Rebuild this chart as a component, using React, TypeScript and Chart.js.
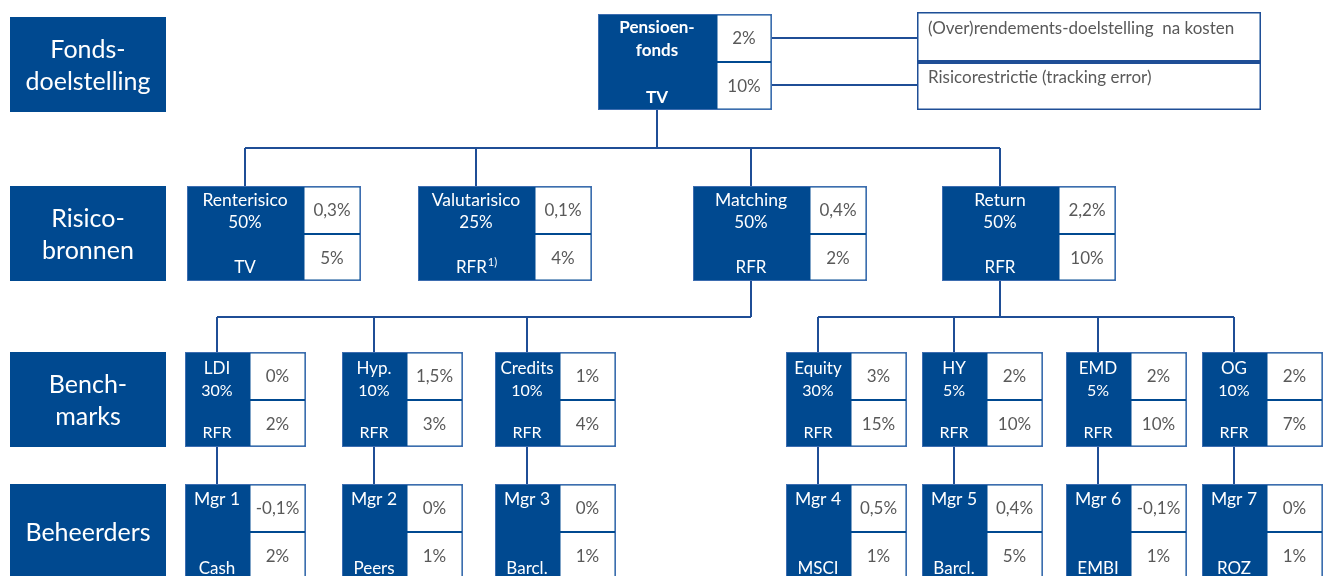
import React, { useEffect, useRef } from "react";
import { Chart, registerables } from "chart.js";

Chart.register(...registerables);

// ---------- data ----------
const rowLabels = [["Fonds-", "doelstelling"], ["Risico-", "bronnen"], ["Bench-", "marks"], ["Beheerders"]];

const fundName = ["Pensioen-", "fonds"];
const fundBenchmark = "TV";
const fundTarget = "2%";
const fundRisk = "10%";
const goalLabels = ["(Over)rendements-doelstelling  na kosten", "Risicorestrictie (tracking error)"];

const riskSources = ["Renterisico", "Valutarisico", "Matching", "Return"];
const riskWeights = ["50%", "25%", "50%", "50%"];
const riskBenchmarks = ["TV", "RFR", "RFR", "RFR"];
const riskFootnotes = ["", "1)", "", ""];
const riskTargets = ["0,3%", "0,1%", "0,4%", "2,2%"];
const riskLimits = ["5%", "4%", "2%", "10%"];

const benchNames = ["LDI", "Hyp.", "Credits", "Equity", "HY", "EMD", "OG"];
const benchWeights = ["30%", "10%", "10%", "30%", "5%", "5%", "10%"];
const benchIndex = ["RFR", "RFR", "RFR", "RFR", "RFR", "RFR", "RFR"];
const benchTargets = ["0%", "1,5%", "1%", "3%", "2%", "2%", "2%"];
const benchLimits = ["2%", "3%", "4%", "15%", "10%", "10%", "7%"];
const benchParent = [2, 2, 2, 3, 3, 3, 3];

const managers = ["Mgr 1", "Mgr 2", "Mgr 3", "Mgr 4", "Mgr 5", "Mgr 6", "Mgr 7"];
const managerIndex = ["Cash", "Peers", "Barcl.", "MSCI", "Barcl.", "EMBI", "ROZ"];
const managerTargets = ["-0,1%", "0%", "0%", "0,5%", "0,4%", "-0,1%", "0%"];
const managerLimits = ["2%", "1%", "1%", "1%", "5%", "1%", "1%"];

// ---------- layout (data-space units of the hidden linear scales) ----------
const W = 1323;
const H = 576;
const LAYOUT = {
  rowX: [10, 166],
  rowY: [[17, 112], [186, 281], [352, 447], [484, 610]],
  fund: { x0: 598, xd: 716, x1: 772, y0: 14, ym: 62, y1: 110 },
  goal: { x0: 917, x1: 1261, y0: 12, ym: 62, y1: 110 },
  goalLineY: [38, 85],
  riskX: [187, 418, 693, 942],
  riskW: 174,
  riskDark: 116,
  riskY: [186, 234, 281],
  benchX: [185, 342, 495, 786, 922, 1066, 1202],
  benchW: 121,
  benchDark: 64,
  benchY: [352, 400, 447],
  mgrY: [484, 532, 610],
  bus1Y: 148,
  bus2Y: 317,
};

const BLUE = "#004990";
const LINE = "#1F4E96";
const EDGE = "#3D6DB0";
const GRAY = "#595959";
const FONT = "Lato, 'Open Sans', sans-serif";

const diagramPlugin = {
  id: "diagram",
  afterDraw(chart: any) {
    const ctx: CanvasRenderingContext2D = chart.ctx;
    const xs = chart.scales.x;
    const ys = chart.scales.y;
    const px = (v: number) => xs.getPixelForValue(v);
    const py = (v: number) => ys.getPixelForValue(v);
    const L = LAYOUT;

    ctx.save();
    ctx.textAlign = "center";
    ctx.textBaseline = "middle";

    const rect = (x0: number, y0: number, x1: number, y1: number, fill: string) => {
      ctx.fillStyle = fill;
      ctx.fillRect(px(x0), py(y0), px(x1) - px(x0), py(y1) - py(y0));
    };
    const line = (pts: number[][], w = 2) => {
      ctx.strokeStyle = LINE;
      ctx.lineWidth = w;
      ctx.beginPath();
      pts.forEach((p, i) => (i === 0 ? ctx.moveTo(px(p[0]), py(p[1])) : ctx.lineTo(px(p[0]), py(p[1]))));
      ctx.stroke();
    };
    const text = (s: string, x: number, y: number, size: number, color: string, weight = "normal", align: CanvasTextAlign = "center") => {
      ctx.font = `${weight} ${size}px ${FONT}`;
      ctx.fillStyle = color;
      ctx.textAlign = align;
      ctx.fillText(s, px(x), py(y));
    };
    const node = (x0: number, xd: number, x1: number, y0: number, ym: number, y1: number) => {
      rect(x0, y0, x1, y1, BLUE);
      ctx.strokeStyle = EDGE;
      ctx.lineWidth = 1;
      ctx.strokeRect(px(x0) + 0.5, py(y0) + 0.5, px(x1) - px(x0) - 1, py(y1) - py(y0) - 1);
      rect(xd + 1.5, y0 + 1.5, x1 - 1.5, ym - 1, "#ffffff");
      rect(xd + 1.5, ym + 1, x1 - 1.5, y1 - 1.5, "#ffffff");
    };

    // connectors
    const fundCx = 657;
    const riskCx = L.riskX.map((x) => x + L.riskDark / 2);
    const benchCx = L.benchX.map((x) => x + L.benchDark / 2);
    line([[fundCx, L.fund.y1], [fundCx, L.bus1Y]]);
    line([[riskCx[0], L.bus1Y], [riskCx[riskCx.length - 1], L.bus1Y]]);
    riskCx.forEach((cx) => line([[cx, L.bus1Y], [cx, L.riskY[0]]]));
    [2, 3].forEach((p) => {
      const kids = benchCx.filter((_, i) => benchParent[i] === p);
      line([[riskCx[p], L.riskY[2]], [riskCx[p], L.bus2Y]]);
      line([[Math.min(...kids, riskCx[p]), L.bus2Y], [Math.max(...kids, riskCx[p]), L.bus2Y]]);
      kids.forEach((cx) => line([[cx, L.bus2Y], [cx, L.benchY[0]]]));
    });
    benchCx.forEach((cx) => line([[cx, L.benchY[2]], [cx, L.mgrY[0]]]));
    L.goalLineY.forEach((gy) => line([[L.fund.x1, gy], [L.goal.x0, gy]]));

    // row labels
    rowLabels.forEach((lines, r) => {
      const [y0, y1] = L.rowY[r];
      rect(L.rowX[0], y0, L.rowX[1], y1, BLUE);
      const cy = r === 3 ? 533 : (y0 + y1) / 2 + 1;
      const cx = (L.rowX[0] + L.rowX[1]) / 2;
      lines.forEach((s, i) => text(s, cx, cy + (i - (lines.length - 1) / 2) * 32, 25, "#ffffff"));
    });

    // fund
    const F = L.fund;
    node(F.x0, F.xd, F.x1, F.y0, F.ym, F.y1);
    const fcx = (F.x0 + F.xd) / 2;
    text(fundName[0], fcx, F.y0 + 14, 17, "#ffffff", "bold");
    text(fundName[1], fcx, F.y0 + 37, 17, "#ffffff", "bold");
    text(fundBenchmark, fcx, F.y1 - 12, 17, "#ffffff", "bold");
    text(fundTarget, (F.xd + F.x1) / 2, (F.y0 + F.ym) / 2 + 1, 17, GRAY);
    text(fundRisk, (F.xd + F.x1) / 2, (F.ym + F.y1) / 2 + 1, 17, GRAY);

    // goal boxes
    const G = L.goal;
    rect(G.x0, G.y0, G.x1, G.y1, LINE);
    rect(G.x0 + 1.5, G.y0 + 1.5, G.x1 - 1.5, G.ym - 2, BLUE);
    rect(G.x0 + 1.5, G.y0 + 1.5, G.x1 - 1.5, G.ym - 2, "#ffffff");
    rect(G.x0 + 1.5, G.ym + 2, G.x1 - 1.5, G.y1 - 1.5, "#ffffff");
    text(goalLabels[0], G.x0 + 11, G.y0 + 17, 17, GRAY, "normal", "left");
    text(goalLabels[1], G.x0 + 11, G.ym + 16, 17, GRAY, "normal", "left");

    // risk sources
    riskSources.forEach((name, i) => {
      const x0 = L.riskX[i];
      const xd = x0 + L.riskDark;
      const x1 = x0 + L.riskW;
      const [y0, ym, y1] = L.riskY;
      node(x0, xd, x1, y0, ym, y1);
      const cx = (x0 + xd) / 2;
      text(name, cx, y0 + 14, 17.5, "#ffffff");
      text(riskWeights[i], cx, y0 + 37, 17, "#ffffff");
      if (riskFootnotes[i]) {
        ctx.font = `normal 17px ${FONT}`;
        const w1 = ctx.measureText(riskBenchmarks[i]).width;
        ctx.font = `normal 11px ${FONT}`;
        const w2 = ctx.measureText(riskFootnotes[i]).width;
        const start = px(cx) - (w1 + w2) / 2;
        ctx.fillStyle = "#ffffff";
        ctx.textAlign = "left";
        ctx.font = `normal 17px ${FONT}`;
        ctx.fillText(riskBenchmarks[i], start, py(y1 - 13));
        ctx.font = `normal 11px ${FONT}`;
        ctx.fillText(riskFootnotes[i], start + w1 + 1, py(y1 - 19));
      } else {
        text(riskBenchmarks[i], cx, y1 - 13, 17, "#ffffff");
      }
      text(riskTargets[i], (xd + x1) / 2, (y0 + ym) / 2 + 1, 17, GRAY);
      text(riskLimits[i], (xd + x1) / 2, (ym + y1) / 2 + 1, 17, GRAY);
    });

    // benchmarks + managers
    benchNames.forEach((name, i) => {
      const x0 = L.benchX[i];
      const xd = x0 + L.benchDark;
      const x1 = x0 + L.benchW;
      const cx = (x0 + xd) / 2;
      const vx = (xd + x1) / 2;
      const [y0, ym, y1] = L.benchY;
      node(x0, xd, x1, y0, ym, y1);
      text(name, cx, y0 + 17, 17, "#ffffff");
      text(benchWeights[i], cx, y0 + 39, 16, "#ffffff");
      text(benchIndex[i], cx, y1 - 14, 16, "#ffffff");
      text(benchTargets[i], vx, (y0 + ym) / 2 + 1, 17, GRAY);
      text(benchLimits[i], vx, (ym + y1) / 2 + 1, 17, GRAY);

      const [m0, mm, m1] = L.mgrY;
      node(x0, xd, x1, m0, mm, m1);
      text(managers[i], cx, m0 + 15, 17.5, "#ffffff");
      text(managerIndex[i], cx, 569, 17, "#ffffff");
      text(managerTargets[i], vx, (m0 + mm) / 2 + 1, 17, GRAY);
      text(managerLimits[i], vx, mm + 25, 17, GRAY);
    });

    ctx.restore();
  },
};

export default function App() {
  const ref = useRef<HTMLCanvasElement | null>(null);
  useEffect(() => {
    if (!ref.current) return;
    const chart = new Chart(ref.current, {
      type: "scatter",
      data: { datasets: [{ data: [], pointRadius: 0 }] },
      options: {
        animation: false,
        responsive: false,
        maintainAspectRatio: false,
        layout: { padding: 0 },
        plugins: { legend: { display: false }, tooltip: { enabled: false } },
        scales: {
          x: { type: "linear", min: 0, max: W, display: false },
          y: { type: "linear", min: 0, max: H, reverse: true, display: false },
        },
      },
      plugins: [diagramPlugin],
    });
    return () => chart.destroy();
  }, []);
  return (
    <div style={{ position: "absolute", left: 0, top: 0, width: W, height: H, background: "#ffffff", overflow: "hidden" }}>
      <canvas ref={ref} width={W} height={H} style={{ display: "block", width: W, height: H }} />
    </div>
  );
}
